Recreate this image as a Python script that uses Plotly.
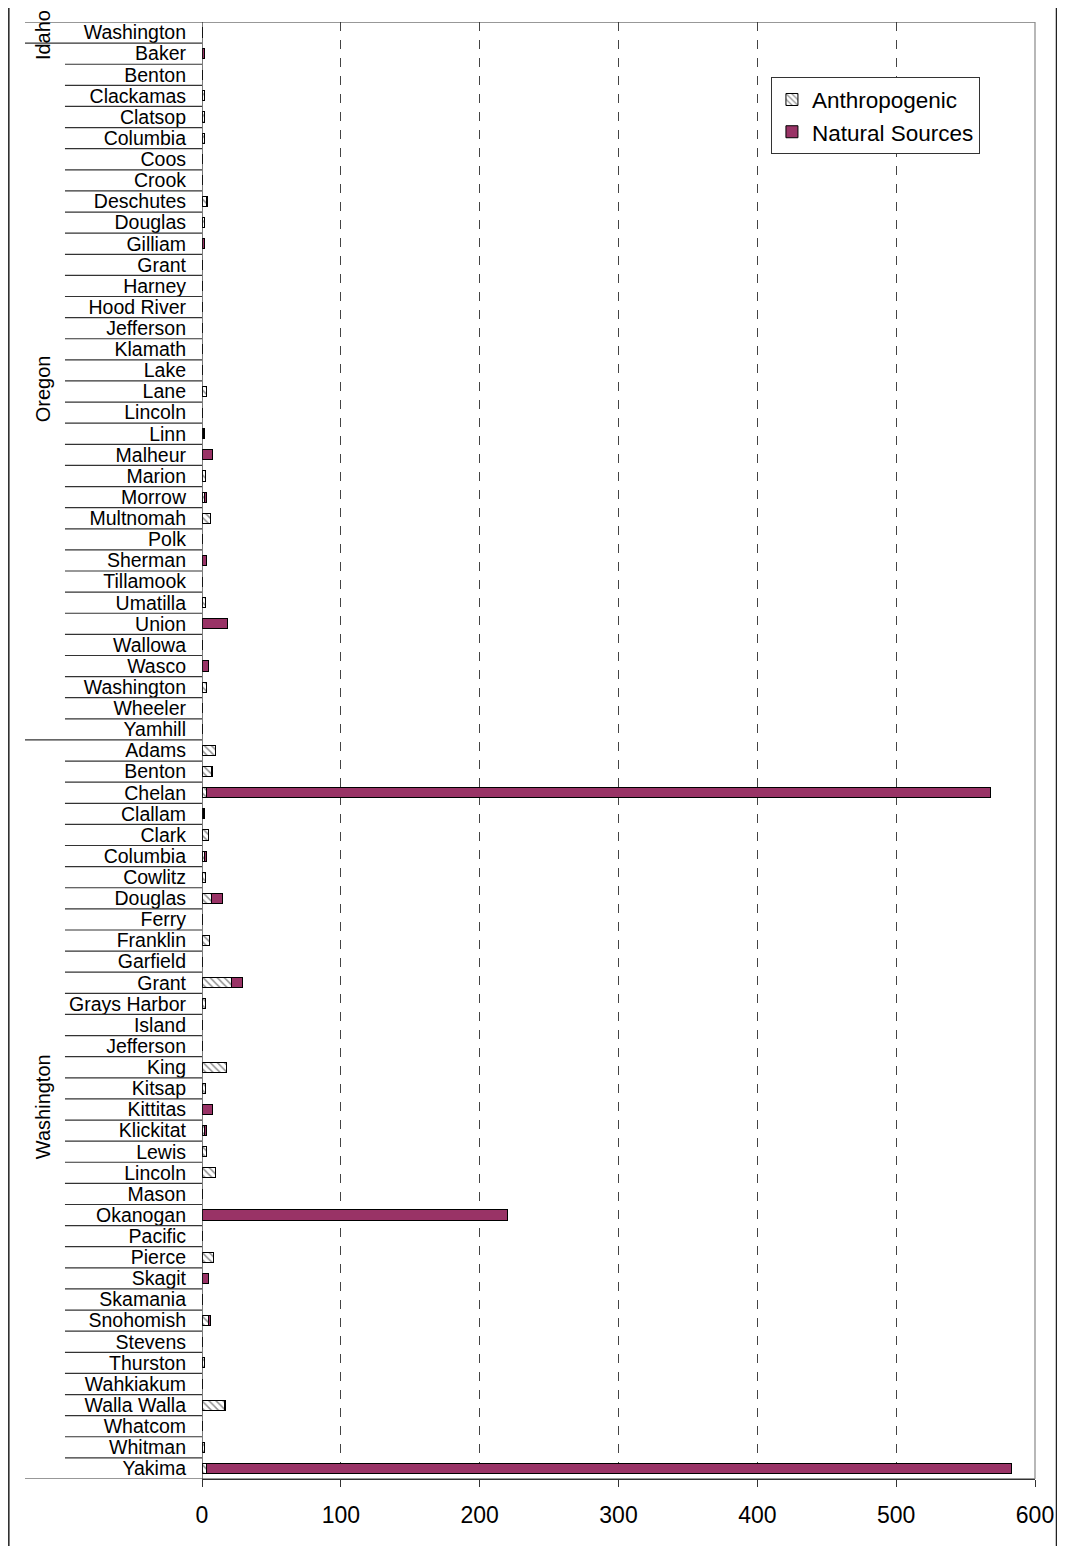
import plotly.graph_objects as go

# -----------------------------
# Data
# -----------------------------
states = ["Idaho", "Oregon", "Washington"]

idaho_counties = ["Washington"]
oregon_counties = [
    "Baker", "Benton", "Clackamas", "Clatsop", "Columbia", "Coos", "Crook",
    "Deschutes", "Douglas", "Gilliam", "Grant", "Harney", "Hood River",
    "Jefferson", "Klamath", "Lake", "Lane", "Lincoln", "Linn", "Malheur",
    "Marion", "Morrow", "Multnomah", "Polk", "Sherman", "Tillamook",
    "Umatilla", "Union", "Wallowa", "Wasco", "Washington", "Wheeler", "Yamhill",
]
washington_counties = [
    "Adams", "Benton", "Chelan", "Clallam", "Clark", "Columbia", "Cowlitz",
    "Douglas", "Ferry", "Franklin", "Garfield", "Grant", "Grays Harbor",
    "Island", "Jefferson", "King", "Kitsap", "Kittitas", "Klickitat", "Lewis",
    "Lincoln", "Mason", "Okanogan", "Pacific", "Pierce", "Skagit", "Skamania",
    "Snohomish", "Stevens", "Thurston", "Wahkiakum", "Walla Walla", "Whatcom",
    "Whitman", "Yakima",
]

idaho_anthro = [0]
idaho_natural = [0]

oregon_anthro = [
    0, 0, 2, 1.5, 1.5, 0, 0, 3, 1.5, 0, 0, 0, 0,
    0, 0, 0, 3, 0, 1, 0.5, 2.5, 2, 6, 0, 0, 0,
    2.5, 0.5, 0, 0.5, 3.5, 0, 0,
]
oregon_natural = [
    1.5, 0, 0, 0, 0, 0, 0, 1, 0, 1.5, 0, 0, 0,
    0, 0, 0, 0, 0, 0.5, 7, 0, 1.5, 0, 0, 3.5, 0,
    0, 18, 0, 4, 0, 0, 0,
]

washington_anthro = [
    10, 7, 3, 1, 4.5, 1.5, 2.5, 7, 0, 5.5, 0, 21, 2.5,
    0, 0, 18, 2.5, 0.5, 1.5, 3.5, 10, 0, 0, 0, 8, 0, 0,
    5, 0, 1.5, 0, 16, 0, 1.5, 3,
]
washington_natural = [
    0, 0.5, 565, 1, 0, 1.5, 0, 8, 0, 0, 0, 8, 0,
    0, 0, 0, 0, 7, 1.5, 0, 0, 0, 220, 0, 0, 4.5, 0,
    1, 0, 0, 0, 1, 0, 0, 580,
]

x_ticks = [0, 100, 200, 300, 400, 500, 600]

# -----------------------------
# Build rows
# -----------------------------
groups = [
    ("Idaho", idaho_counties, idaho_anthro, idaho_natural),
    ("Oregon", oregon_counties, oregon_anthro, oregon_natural),
    ("Washington", washington_counties, washington_anthro, washington_natural),
]

labels, anthro, natural = [], [], []
group_spans = []
for state, counties, a, n in groups:
    start = len(labels)
    labels += counties
    anthro += a
    natural += n
    group_spans.append((state, start, len(labels) - 1))
rows = list(range(len(labels)))

font = "Liberation Sans, Arial, sans-serif"

fig = go.Figure()
fig.add_trace(go.Bar(
    y=rows, x=anthro, orientation="h", name="Anthropogenic",
    marker=dict(color="white", line=dict(color="black", width=1),
                pattern=dict(shape="\\", fgcolor="#222", size=5, solidity=0.3)),
))
fig.add_trace(go.Bar(
    y=rows, x=natural, orientation="h", name="Natural Sources",
    marker=dict(color="#993366", line=dict(color="black", width=1)),
))

# -----------------------------
# Category dividers and state labels
# -----------------------------
shapes = []
boundaries = {s for _, s, _ in group_spans} | {group_spans[-1][2] + 1}
for i in range(len(rows) + 1):
    x0 = -0.2125 if i in boundaries else -0.1645
    x1 = 1 if i in (0, len(rows)) else 0
    shapes.append(dict(type="line", xref="paper", yref="y", x0=x0, x1=x1,
                       y0=i - 0.5, y1=i - 0.5,
                       line=dict(color="#333", width=1.2)))

# outer frame (left/right edges of the chart box)
shapes.append(dict(type="rect", xref="paper", yref="paper",
                   x0=-0.2319, x1=1.0258, y0=-0.2, y1=1.2,
                   line=dict(color="#222", width=1.5)))
# right border of plot
shapes.append(dict(type="line", xref="paper", yref="paper",
                   x0=1, x1=1, y0=0, y1=1,
                   line=dict(color="#888", width=1.2)))
# vertical axis line at zero
shapes.append(dict(type="line", xref="x", yref="paper", x0=0, x1=0, y0=0, y1=1,
                   line=dict(color="#222", width=1.2)))

annotations = []
for state, s, e in group_spans:
    if s == e:
        # single-row group: keep the label inside the top edge of the figure
        pos = dict(yref="paper", y=1.0095, yanchor="top")
    else:
        pos = dict(yref="y", y=(s + e) / 2 - 0.15, yanchor="middle")
    annotations.append(dict(
        text=state, xref="paper", x=-0.191, xanchor="center",
        textangle=-90, showarrow=False,
        font=dict(family=font, size=20, color="black"), **pos,
    ))

# page body has an 8px margin, so the figure is sized to fit inside the window
fig.update_layout(
    width=1049, height=1538,
    margin=dict(l=194, r=22, t=14, b=67),
    paper_bgcolor="white", plot_bgcolor="white",
    barmode="stack", bargap=0.52,
    font=dict(family=font, color="black"),
    shapes=shapes, annotations=annotations,
    legend=dict(
        x=0.683, y=0.962, xanchor="left", yanchor="top",
        bgcolor="white", bordercolor="#333", borderwidth=1,
        font=dict(family=font, size=22.5, color="black"),
        itemwidth=30, traceorder="normal",
    ),
    showlegend=True,
)

fig.update_xaxes(
    range=[0, 600], tickvals=x_ticks, automargin=False,
    showgrid=True, gridcolor="#444", griddash="dash", gridwidth=1,
    showline=True, linecolor="#333", linewidth=1.2,
    ticks="outside", ticklen=7, tickcolor="#333",
    tickfont=dict(family=font, size=23, color="black"),
    ticklabelstandoff=8, zeroline=False,
)
fig.update_yaxes(
    tickmode="array", tickvals=rows, ticktext=labels,
    range=[len(rows) - 0.5, -0.5], automargin=False,
    showgrid=False, zeroline=False,
    showline=False, ticks="",
    tickfont=dict(family=font, size=19.5, color="black"),
    ticklabelstandoff=15,
)

fig.write_html("out.html")
